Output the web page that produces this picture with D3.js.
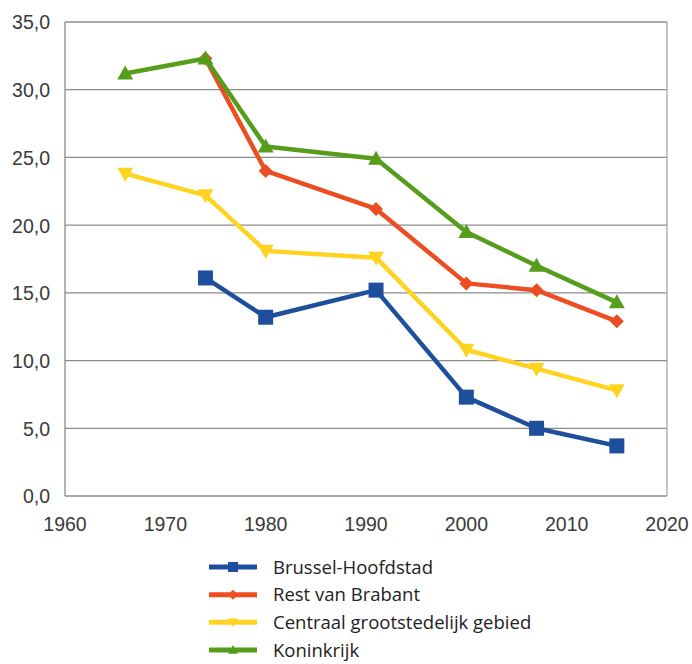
<!DOCTYPE html>
<html>
<head>
<meta charset="utf-8">
<script src="https://cdn.jsdelivr.net/npm/d3@7"></script>
<style>
  body { margin: 0; background: #fff; }
  svg { display: block; }
</style>
</head>
<body>
<div id="chart"></div>
<script>
// data
const seriesNames = ["Brussel-Hoofdstad", "Rest van Brabant", "Centraal grootstedelijk gebied", "Koninkrijk"];
const brusselYears = [1974, 1980, 1991, 2000, 2007, 2015];
const brusselValues = [16.1, 13.2, 15.2, 7.3, 5.0, 3.7];
const brabantYears = [1974, 1980, 1991, 2000, 2007, 2015];
const brabantValues = [32.3, 24.0, 21.2, 15.7, 15.2, 12.9];
const centraalYears = [1966, 1974, 1980, 1991, 2000, 2007, 2015];
const centraalValues = [23.8, 22.2, 18.1, 17.6, 10.8, 9.4, 7.8];
const koninkrijkYears = [1966, 1974, 1980, 1991, 2000, 2007, 2015];
const koninkrijkValues = [31.2, 32.3, 25.8, 24.9, 19.5, 17.0, 14.3];
const xTicks = [1960, 1970, 1980, 1990, 2000, 2010, 2020];
const yTicks = [0, 5, 10, 15, 20, 25, 30, 35];

const series = [
  { name: seriesNames[0], years: brusselYears, values: brusselValues, color: "#1d4f9c", symbol: "square" },
  { name: seriesNames[1], years: brabantYears, values: brabantValues, color: "#ec4d21", symbol: "diamond" },
  { name: seriesNames[2], years: centraalYears, values: centraalValues, color: "#ffd320", symbol: "down" },
  { name: seriesNames[3], years: koninkrijkYears, values: koninkrijkValues, color: "#579d1c", symbol: "up" }
];

const width = 692, height = 664;
const margin = { top: 22, right: 25, bottom: 168, left: 65 };

const svg = d3.select("#chart").append("svg")
  .attr("width", width)
  .attr("height", height);

const sx = d3.scaleLinear().domain([1960, 2020]).range([margin.left, width - margin.right]);
const sy = d3.scaleLinear().domain([0, 35]).range([height - margin.bottom, margin.top]);

// grid
svg.append("g")
  .selectAll("line")
  .data(yTicks)
  .join("line")
  .attr("x1", sx(1960))
  .attr("x2", sx(2020))
  .attr("y1", d => sy(d))
  .attr("y2", d => sy(d))
  .attr("stroke", "#8c8c8c")
  .attr("stroke-width", 1.3);

// frame sides
svg.append("line")
  .attr("x1", sx(1960)).attr("x2", sx(1960))
  .attr("y1", sy(0)).attr("y2", sy(35))
  .attr("stroke", "#8c8c8c").attr("stroke-width", 1.3);
svg.append("line")
  .attr("x1", sx(2020)).attr("x2", sx(2020))
  .attr("y1", sy(0)).attr("y2", sy(35))
  .attr("stroke", "#a8a8a8").attr("stroke-width", 1.3);

const fmt = d => d.toFixed(1).replace(".", ",");

svg.append("g")
  .selectAll("text")
  .data(yTicks)
  .join("text")
  .attr("x", margin.left - 15)
  .attr("y", d => sy(d))
  .attr("dy", "0.38em")
  .attr("text-anchor", "end")
  .attr("fill", "#3a3a3a")
  .style("font-family", "'Liberation Sans', Arial, sans-serif")
  .style("font-size", "19.5px")
  .text(fmt);

svg.append("g")
  .selectAll("text")
  .data(xTicks)
  .join("text")
  .attr("x", d => sx(d))
  .attr("y", sy(0) + 35)
  .attr("text-anchor", "middle")
  .attr("fill", "#3a3a3a")
  .style("font-family", "'Liberation Sans', Arial, sans-serif")
  .style("font-size", "19.5px")
  .text(d => d);

function symbolPath(sel, symbol, size) {
  const h = size / 2;
  if (symbol === "square") {
    sel.append("rect").attr("x", -h).attr("y", -h).attr("width", size).attr("height", size);
  } else if (symbol === "diamond") {
    sel.append("path").attr("d", `M0,${-h} L${h},0 L0,${h} L${-h},0Z`);
  } else if (symbol === "up") {
    sel.append("path").attr("d", `M0,${-h} L${h},${h * 0.75} L${-h},${h * 0.75}Z`);
  } else if (symbol === "down") {
    sel.append("path").attr("d", `M0,${h} L${h},${-h * 0.75} L${-h},${-h * 0.75}Z`);
  }
}

const sizes = { square: 15, diamond: 14, up: 16, down: 16 };

const line = d3.line().x(d => sx(d[0])).y(d => sy(d[1]));

series.forEach(s => {
  const pts = s.years.map((y, i) => [y, s.values[i]]);
  const g = svg.append("g");
  g.append("path")
    .datum(pts)
    .attr("d", line)
    .attr("fill", "none")
    .attr("stroke", s.color)
    .attr("stroke-width", 4.5)
    .attr("stroke-linejoin", "round");
  g.selectAll("g.pt")
    .data(pts)
    .join("g")
    .attr("class", "pt")
    .attr("transform", d => `translate(${sx(d[0])},${sy(d[1])})`)
    .attr("fill", s.color)
    .each(function() { symbolPath(d3.select(this), s.symbol, sizes[s.symbol]); });
});

// legend
const legend = svg.append("g");
const rowY = d3.scaleLinear().domain([0, 3]).range([567, 650]);
series.forEach((s, i) => {
  const g = legend.append("g").attr("transform", `translate(0,${rowY(i)})`);
  g.append("line")
    .attr("x1", 209).attr("x2", 257)
    .attr("stroke", s.color).attr("stroke-width", 5);
  const m = g.append("g").attr("transform", "translate(233,0)").attr("fill", s.color);
  symbolPath(m, s.symbol, 10);
  g.append("text")
    .attr("x", 273)
    .attr("dy", "0.36em")
    .attr("fill", "#222")
    .style("font-family", "'Open Sans', sans-serif")
    .style("font-size", "18.5px")
    .text(s.name);
});
</script>
</body>
</html>
